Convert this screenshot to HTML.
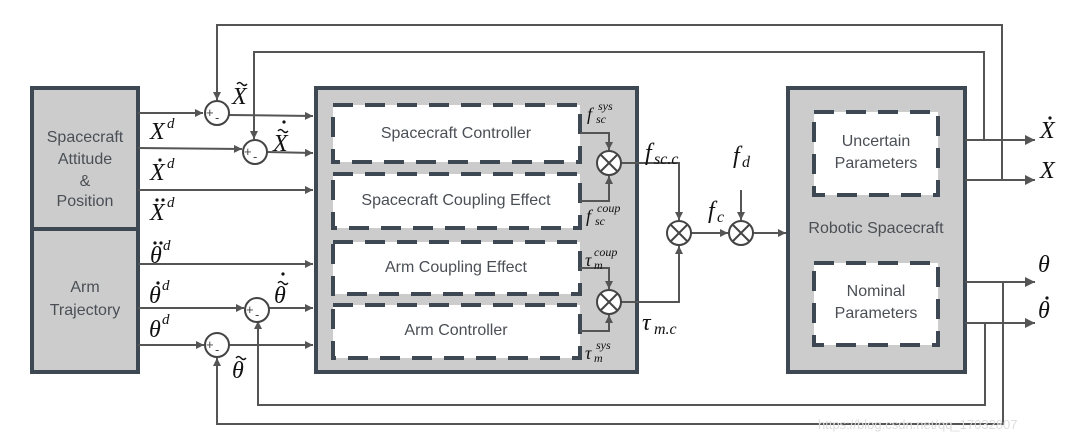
<!DOCTYPE html>
<html><head><meta charset="utf-8"><style>
html,body{margin:0;padding:0;background:#fff;}
svg{display:block}
.s{font-family:"Liberation Sans",sans-serif;fill:#4a4f55;font-size:16px;text-anchor:middle}
.m{font-family:"Liberation Serif",serif;font-style:italic;fill:#111;}
</style></head><body>
<svg width="1076" height="441" viewBox="0 0 1076 441" xmlns="http://www.w3.org/2000/svg">
<defs>
<marker id="a" viewBox="0 0 10 10" refX="10" refY="5" markerWidth="9" markerHeight="8" orient="auto" markerUnits="userSpaceOnUse"><path d="M0,0 L10,5 L0,10z" fill="#555"/></marker>
<marker id="b" viewBox="0 0 10 10" refX="10" refY="5" markerWidth="13" markerHeight="10" orient="auto" markerUnits="userSpaceOnUse"><path d="M0,0 L10,5 L0,10z" fill="#555"/></marker>
</defs>
<g fill="#cccccc" stroke="#3d4852" stroke-width="4">
<rect x="32" y="88" width="106" height="284"/>
<line x1="32" y1="229" x2="138" y2="229"/>
<rect x="316" y="88" width="321" height="284"/>
<rect x="788" y="88" width="177" height="284"/>
</g>
<g fill="#fff" stroke="#3d4852" stroke-width="4" stroke-dasharray="20 12">
<rect x="333" y="105" width="247" height="57"/>
<rect x="333" y="174" width="247" height="54"/>
<rect x="333" y="242" width="247" height="52"/>
<rect x="333" y="305" width="247" height="53"/>
<rect x="814" y="112" width="124" height="83"/>
<rect x="814" y="263" width="124" height="82"/>
</g>
<text class="s" x="85" y="142">Spacecraft</text>
<text class="s" x="85" y="164">Attitude</text>
<text class="s" x="85" y="186">&amp;</text>
<text class="s" x="85" y="206">Position</text>
<text class="s" x="85" y="292">Arm</text>
<text class="s" x="85" y="315">Trajectory</text>
<text class="s" x="456" y="138">Spacecraft Controller</text>
<text class="s" x="456" y="205">Spacecraft Coupling Effect</text>
<text class="s" x="456" y="272">Arm Coupling Effect</text>
<text class="s" x="456" y="335">Arm Controller</text>
<text class="s" x="876" y="146">Uncertain</text>
<text class="s" x="876" y="168">Parameters</text>
<text class="s" x="876" y="233">Robotic Spacecraft</text>
<text class="s" x="876" y="296">Nominal</text>
<text class="s" x="876" y="318">Parameters</text>
<g stroke="#555" stroke-width="2" fill="none">
<line x1="138" y1="113" x2="203" y2="113" marker-end="url(#a)"/>
<line x1="229" y1="115" x2="313" y2="116" marker-end="url(#a)"/>
<line x1="138" y1="148" x2="242" y2="149" marker-end="url(#a)"/>
<line x1="267" y1="152" x2="313" y2="153" marker-end="url(#a)"/>
<line x1="138" y1="190" x2="313" y2="190" marker-end="url(#a)"/>
<line x1="138" y1="264" x2="313" y2="264" marker-end="url(#a)"/>
<line x1="138" y1="308" x2="244" y2="308" marker-end="url(#a)"/>
<line x1="269" y1="308" x2="313" y2="308" marker-end="url(#a)"/>
<line x1="138" y1="345" x2="204" y2="345" marker-end="url(#a)"/>
<line x1="229" y1="345" x2="313" y2="345" marker-end="url(#a)"/>
<polyline points="1002,180 1002,25 217,25 217,100" marker-end="url(#a)"/>
<polyline points="984,140 984,52 254,52 254,139" marker-end="url(#a)"/>
<polyline points="1003,282 1003,424 217,424 217,358" marker-end="url(#a)"/>
<polyline points="985,323 985,405 258,405 258,321" marker-end="url(#a)"/>
<line x1="965" y1="140" x2="1035" y2="140" marker-end="url(#b)"/>
<line x1="965" y1="180" x2="1035" y2="180" marker-end="url(#b)"/>
<line x1="965" y1="282" x2="1035" y2="282" marker-end="url(#b)"/>
<line x1="965" y1="323" x2="1035" y2="323" marker-end="url(#b)"/>
<polyline points="580,133 609,133 609,150" marker-end="url(#a)"/>
<polyline points="580,201 609,201 609,176" marker-end="url(#a)"/>
<polyline points="580,268 609,268 609,289" marker-end="url(#a)"/>
<polyline points="580,331 609,331 609,315" marker-end="url(#a)"/>
<polyline points="621,163 679,163 679,220" marker-end="url(#a)"/>
<polyline points="621,302 679,302 679,246" marker-end="url(#a)"/>
<line x1="691" y1="233" x2="728" y2="233" marker-end="url(#a)"/>
<line x1="741" y1="190" x2="741" y2="220" marker-end="url(#a)"/>
<line x1="753" y1="233" x2="786" y2="233" marker-end="url(#a)"/>
</g>
<g stroke="#444" stroke-width="2" fill="#fff">
<circle cx="217" cy="113" r="12"/><circle cx="255" cy="152" r="12"/>
<circle cx="257" cy="310" r="12"/><circle cx="217" cy="345" r="12"/>
<circle cx="609" cy="163" r="12"/><circle cx="609" cy="302" r="12"/>
<circle cx="679" cy="233" r="12"/><circle cx="741" cy="233" r="12"/>
</g>
<g stroke="#444" stroke-width="2">
<path d="M601,155 l16,16 M617,155 l-16,16"/>
<path d="M601,294 l16,16 M617,294 l-16,16"/>
<path d="M671,225 l16,16 M687,225 l-16,16"/>
<path d="M733,225 l16,16 M749,225 l-16,16"/>
</g>
<g font-family="Liberation Sans,sans-serif" font-size="13" fill="#444">
<text x="206" y="117">+</text><text x="215" y="122">-</text>
<text x="244" y="156">+</text><text x="253" y="161">-</text>
<text x="246" y="314">+</text><text x="255" y="319">-</text>
<text x="206" y="349">+</text><text x="215" y="354">-</text>
</g>
<g class="m" font-size="24">
<text x="150" y="139">X</text><text x="167" y="128" font-size="15">d</text>
<text x="150" y="180">X</text><text x="167" y="168" font-size="15">d</text>
<text x="150" y="220">X</text><text x="167" y="207" font-size="15">d</text>
<text x="150" y="263">θ</text><text x="163" y="250" font-size="15">d</text>
<text x="149" y="303">θ</text><text x="162" y="290" font-size="15">d</text>
<text x="149" y="337">θ</text><text x="162" y="324" font-size="15">d</text>
<text x="232" y="104">X</text>
<text x="273" y="151">X</text>
<text x="274" y="303">θ</text>
<text x="232" y="378">θ</text>
<text x="645" y="160">f</text><text x="654" y="164" font-size="16">sc.c</text>
<text x="642" y="330">τ</text><text x="654" y="334" font-size="16">m.c</text>
<text x="708" y="218">f</text><text x="717" y="222" font-size="16">c</text>
<text x="733" y="163">f</text><text x="742" y="167" font-size="16">d</text>
<text x="1040" y="138">X</text>
<text x="1040" y="178">X</text>
<text x="1038" y="272">θ</text>
<text x="1038" y="318">θ</text>
</g>
<!-- accents -->
<g fill="#111">
<circle cx="160" cy="160" r="1.6"/>
<circle cx="157" cy="200" r="1.6"/><circle cx="163" cy="200" r="1.6"/>
<circle cx="155" cy="243" r="1.6"/><circle cx="161" cy="243" r="1.6"/>
<circle cx="158" cy="283" r="1.6"/>
<circle cx="284" cy="122" r="1.6"/>
<circle cx="283" cy="274" r="1.6"/>
<circle cx="1050" cy="118" r="1.6"/>
<circle cx="1047" cy="298" r="1.6"/>
</g>
<g stroke="#111" stroke-width="1.4" fill="none">
<path d="M237,84 q2.5,-3 5,0 t5,0"/>
<path d="M278,131 q2.5,-3 5,0 t5,0"/>
<path d="M278,283 q2.5,-3 5,0 t5,0"/>
<path d="M236,358 q2.5,-3 5,0 t5,0"/>
</g>
<g class="m">
<text x="587" y="120" font-size="18">f</text><text x="596" y="123" font-size="12">sc</text><text x="598" y="110" font-size="12">sys</text>
<text x="586" y="222" font-size="18">f</text><text x="595" y="225" font-size="12">sc</text><text x="597" y="212" font-size="12">coup</text>
<text x="585" y="266" font-size="18">τ</text><text x="594" y="269" font-size="12">m</text><text x="594" y="256" font-size="12">coup</text>
<text x="585" y="359" font-size="18">τ</text><text x="594" y="362" font-size="12">m</text><text x="596" y="349" font-size="12">sys</text>
</g>
<text x="818" y="429" font-family="Liberation Sans,sans-serif" font-size="13" fill="#ddd">https://blog.csdn.net/qq_17032807</text>
</svg>
</body></html>
